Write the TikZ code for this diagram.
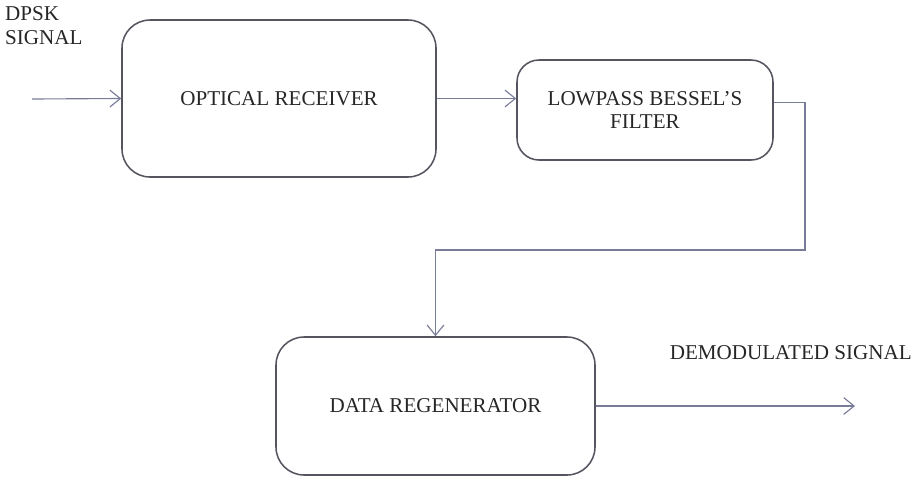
\documentclass[tikz,border=0pt]{standalone}
\usepackage{fontspec}
\setmainfont{Liberation Serif}
\usepackage{xcolor}
\definecolor{boxgray}{RGB}{85, 85, 95}
\definecolor{wireblue}{RGB}{120, 124, 152}
\usepackage{tikz}
\usetikzlibrary{arrows.meta, positioning, calc}

\tikzset{
  block/.style={draw=boxgray, line width=1.1pt, rounded corners=0.7cm,
    align=center, font=\fontsize{15}{17}\selectfont, text=black!85},
  wire/.style={draw=wireblue, line width=0.8pt,
    -{Straight Barb[length=2.6mm, width=4.2mm]}},
  lbl/.style={font=\fontsize{15}{17}\selectfont, text=black!85}
}

\begin{document}
\begin{tikzpicture}
  \useasboundingbox (0,0) rectangle (22.825,-12.175);
  % blocks
  \node[block, minimum width=7.85cm, minimum height=3.925cm] (rx)
    at (6.975,-2.4625) {OPTICAL RECEIVER};
  \node[block, minimum width=6.4cm, minimum height=2.5cm, rounded corners=0.55cm] (lpf)
    at (16.125,-2.75) {LOWPASS BESSEL'S\\FILTER};
  \node[block, minimum width=7.975cm, minimum height=3.45cm] (regen)
    at (10.8875,-10.15) {DATA REGENERATOR};
  % labels
  \node[lbl, anchor=north west, align=left, inner sep=0pt] (inlbl) at (0.12,-0.15) {DPSK\\SIGNAL};
  \node[lbl, anchor=east, inner sep=0pt] (outlbl) at (22.8,-8.825) {DEMODULATED SIGNAL};
  % free ends
  \coordinate (src) at (0.8,-2.475);
  \coordinate (bend) at (20.125,-6.25);
  \coordinate (sink) at (21.375,-10.15);
  \path
    (src) edge[wire] (rx.west)
    (rx.east) edge[wire] (lpf.west |- rx.east)
    (regen.east) edge[wire] (sink)
    ;
  \draw[wire] ([yshift=0.18cm]lpf.east) -| (bend) -| (regen.north);
\end{tikzpicture}
\end{document}
